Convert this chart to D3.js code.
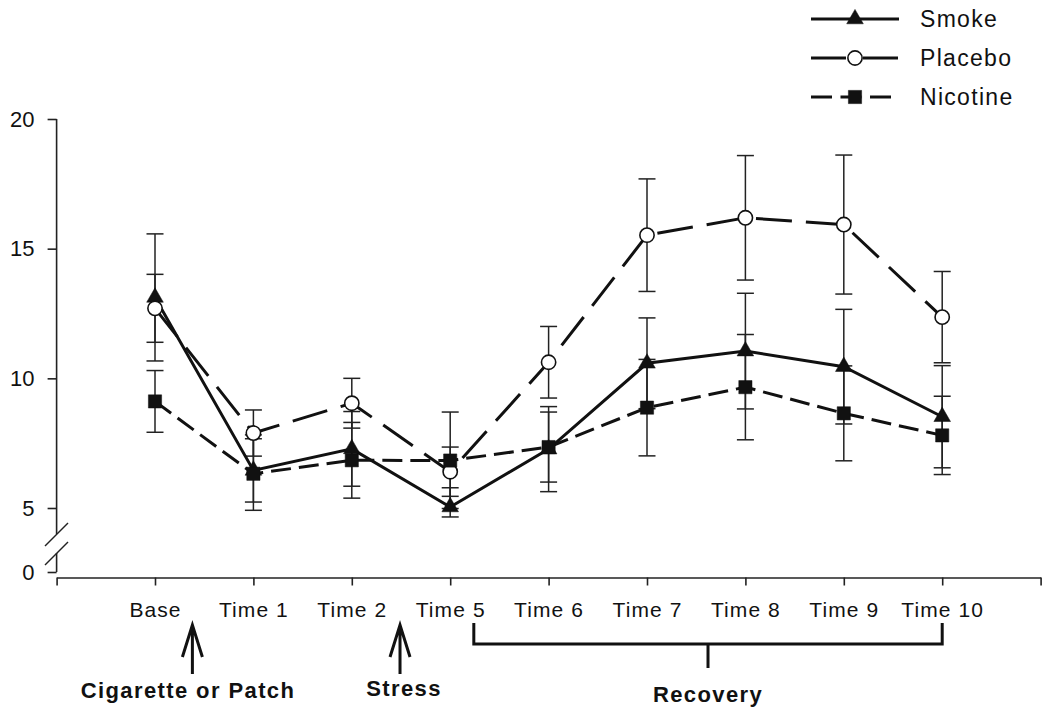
<!DOCTYPE html>
<html><head><meta charset="utf-8">
<script src="https://cdn.jsdelivr.net/npm/d3@7"></script>
<style>
body{margin:0;background:#fff;}
svg{display:block;}
text{font-family:"Liberation Sans", Arial, sans-serif;fill:#111;}
</style>
</head><body>
<svg id="c" width="1050" height="710"></svg>
<script>
// ---- data ----
const categories = ["Base","Time 1","Time 2","Time 5","Time 6","Time 7","Time 8","Time 9","Time 10"];
const smoke      = [13.12, 6.45, 7.28, 5.04, 7.27, 10.58, 11.05, 10.45, 8.52];
const smokeErr   = [2.45, 1.22, 1.44, 0.74, 1.64, 1.75, 2.23, 2.21, 1.97];
const placebo    = [12.70, 7.89, 9.04, 6.40, 10.62, 15.52, 16.19, 15.93, 12.36];
const placeboErr = [1.31, 0.89, 0.96, 0.95, 1.38, 2.17, 2.40, 2.68, 1.76];
const nicotine   = [9.11, 6.32, 6.84, 6.83, 7.35, 8.87, 9.66, 8.65, 7.80];
const nicotineErr= [1.19, 1.50, 1.46, 1.87, 1.35, 1.86, 2.03, 1.83, 1.51];
const seriesNames = ["Smoke","Placebo","Nicotine"];
const yTicks = [0, 5, 10, 15, 20];
const annotations = ["Cigarette or Patch","Stress","Recovery"];

// ---- setup ----
const svg = d3.select("#c");
const x = d3.scaleLinear().domain([-1, 9]).range([56.6, 1040.6]);
const y = d3.scaleLinear().domain([0, 5, 20]).range([572, 508, 119]); // broken axis
const axisY = 56.6, baseY = 577.5;

const series = [
  {name: seriesNames[0], vals: smoke, err: smokeErr, dash: null, sym: d3.symbolTriangle, size: 120, fill: "#111"},
  {name: seriesNames[1], vals: placebo, err: placeboErr, dash: "36,14", sym: d3.symbolCircle, size: 160, fill: "#fff"},
  {name: seriesNames[2], vals: nicotine, err: nicotineErr, dash: "20,8", sym: d3.symbolSquare, size: 175, fill: "#111"}
];

// ---- y axis ----
const gy = svg.append("g").attr("transform", `translate(${axisY},0)`)
  .call(d3.axisLeft(y).tickValues(yTicks).tickSize(9).tickPadding(13));
gy.select(".domain").remove();
gy.selectAll(".tick line").attr("stroke", "#222").attr("stroke-width", 1.6);
gy.selectAll(".tick text").style("font-size", "22px").attr("fill", "#111");
svg.append("line").attr("x1", axisY).attr("x2", axisY).attr("y1", y(20)).attr("y2", 534)
  .attr("stroke", "#222").attr("stroke-width", 1.6);
svg.append("line").attr("x1", axisY).attr("x2", axisY).attr("y1", 553).attr("y2", y(0))
  .attr("stroke", "#222").attr("stroke-width", 1.6);
[[546, 523], [565, 542]].forEach(([a, b]) => {
  svg.append("line").attr("x1", 45).attr("y1", a).attr("x2", 68).attr("y2", b)
    .attr("stroke", "#222").attr("stroke-width", 1.4);
});

// ---- x axis ----
const gx = svg.append("g").attr("transform", `translate(0,${baseY})`)
  .call(d3.axisBottom(x).tickValues(d3.range(-1, 10)).tickSize(8).tickSizeOuter(0).tickPadding(16.5)
    .tickFormat(d => (d >= 0 && d < categories.length) ? categories[d] : ""));
gx.select(".domain").attr("stroke", "#222").attr("stroke-width", 1.6);
gx.selectAll(".tick line").attr("stroke", "#222").attr("stroke-width", 1.6);
gx.selectAll(".tick text").style("font-size", "21px").style("letter-spacing", "1.1px").attr("fill", "#111");

// ---- error bars ----
const capW = 8.5;
series.forEach(s => {
  const g = svg.append("g");
  s.vals.forEach((v, i) => {
    const cx = x(i), top = y(v + s.err[i]), bot = y(v - s.err[i]);
    g.append("line").attr("x1", cx).attr("x2", cx).attr("y1", top).attr("y2", bot)
      .attr("stroke", "#222").attr("stroke-width", 1.5);
    [top, bot].forEach(yy => g.append("line").attr("x1", cx - capW).attr("x2", cx + capW)
      .attr("y1", yy).attr("y2", yy).attr("stroke", "#222").attr("stroke-width", 1.5));
  });
});

// ---- lines ----
const line = d3.line().x((d, i) => x(i)).y(d => y(d));
series.forEach(s => {
  svg.append("path").datum(s.vals).attr("d", line).attr("fill", "none")
    .attr("stroke", "#111").attr("stroke-width", 3)
    .attr("stroke-dasharray", s.dash);
});

// ---- markers ----
series.forEach(s => {
  svg.append("g").selectAll("path").data(s.vals).join("path")
    .attr("d", d3.symbol().type(s.sym).size(s.size))
    .attr("transform", (d, i) => `translate(${x(i)},${y(d)})`)
    .attr("fill", s.fill).attr("stroke", "#111").attr("stroke-width", s.fill === "#fff" ? 1.6 : 0.5);
});

// ---- legend ----
const lg = svg.append("g");
const rowsY = [19, 58, 97];
series.forEach((s, k) => {
  const ly = rowsY[k];
  lg.append("line").attr("x1", 811).attr("x2", 899).attr("y1", ly).attr("y2", ly)
    .attr("stroke", "#111").attr("stroke-width", 3)
    .attr("stroke-dasharray", k === 0 ? null : (k === 1 ? "35,17" : "21,8.5"));
  lg.append("path").attr("d", d3.symbol().type(s.sym).size(s.size))
    .attr("transform", `translate(855,${ly})`)
    .attr("fill", s.fill).attr("stroke", "#111").attr("stroke-width", s.fill === "#fff" ? 1.6 : 0.5);
  lg.append("text").attr("x", 920).attr("y", ly).attr("dy", "0.36em")
    .style("font-size", "23px").style("letter-spacing", "1.3px").text(s.name);
});

// ---- annotations ----
const ann = svg.append("g").attr("stroke", "#111").attr("stroke-width", 3).attr("fill", "none");
function arrow(ax) {
  ann.append("path").attr("d", `M${ax},674 L${ax},626 M${ax - 10},657 L${ax},625 L${ax + 10},657`);
}
arrow(x(0.38));
arrow(x(2.49));
const bx1 = x(3.24), bx2 = x(8), bm = (bx1 + bx2) / 2;
ann.append("path").attr("d", `M${bx1},623 L${bx1},644 L${bx2},644 L${bx2},623 M${bm},644 L${bm},668`);

const tg = svg.append("g").style("font-size", "22px").style("font-weight", "bold").style("letter-spacing", "1.4px")
  .attr("text-anchor", "middle");
tg.append("text").attr("x", 188).attr("y", 698).text(annotations[0]);
tg.append("text").attr("x", 404).attr("y", 696).text(annotations[1]);
tg.append("text").attr("x", bm).attr("y", 702).text(annotations[2]);
</script>
</body></html>
